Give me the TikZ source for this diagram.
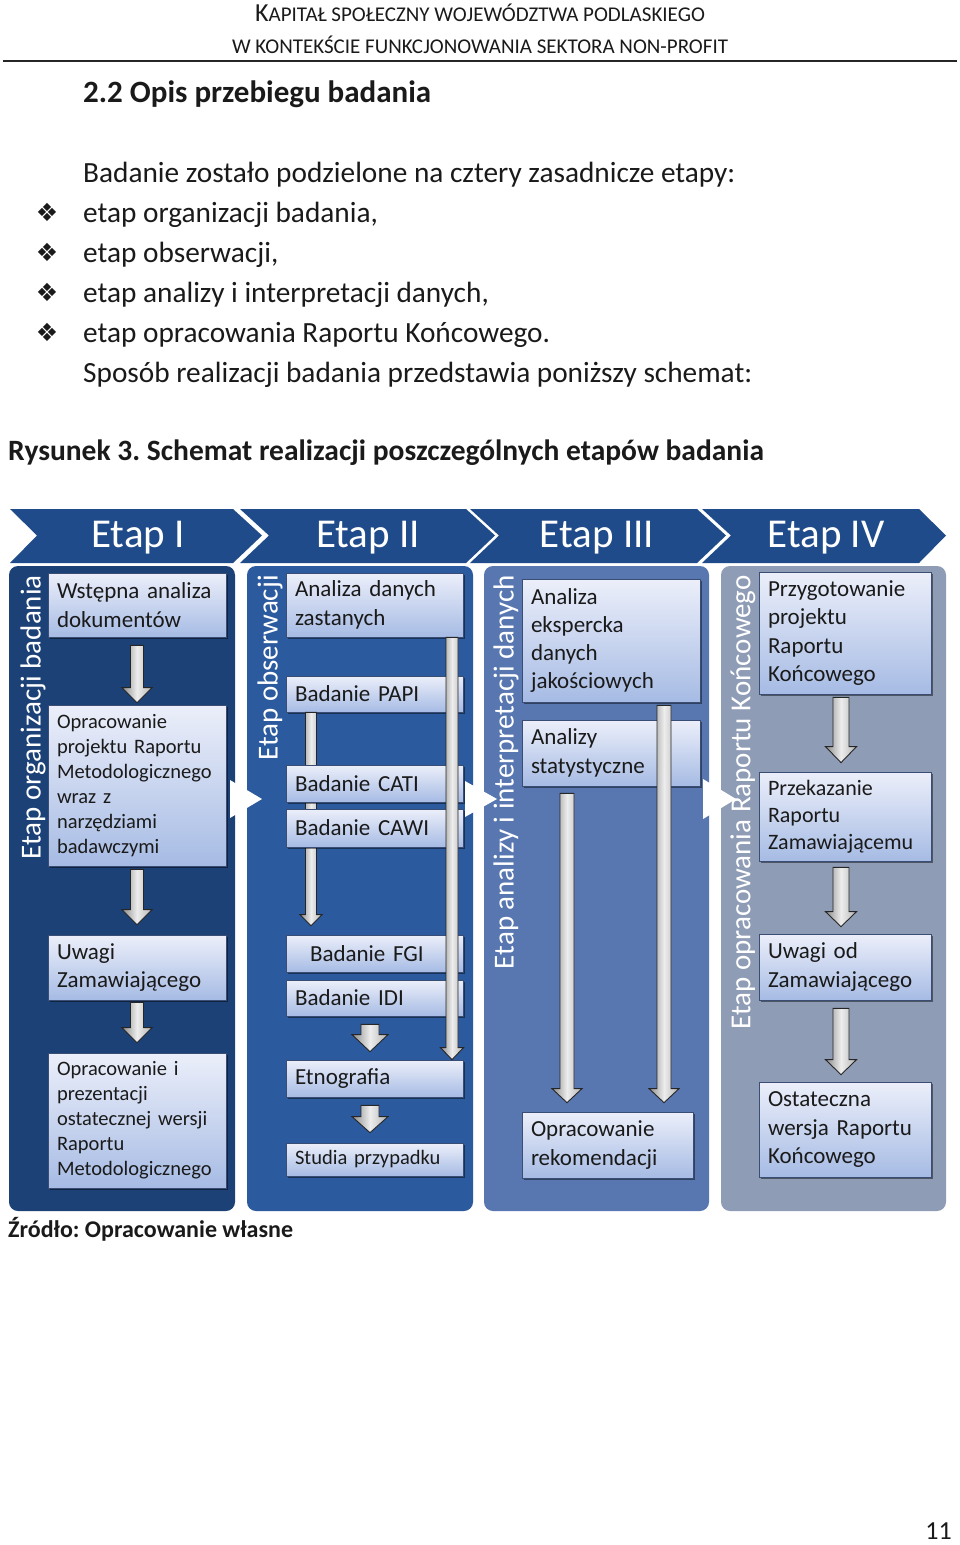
\documentclass[tikz,border=0pt]{standalone}
\usepackage{fontspec}
\setmainfont{Carlito}
\newfontfamily\dejavu{DejaVu Sans}
\usetikzlibrary{shadows,calc}
\frenchspacing

\definecolor{chev}{HTML}{1F4B8A}
\definecolor{pI}{HTML}{1C4177}
\definecolor{pII}{HTML}{2C5A9E}
\definecolor{pIII}{HTML}{5877B1}
\definecolor{pIV}{HTML}{8F9CB6}
\definecolor{boxtop}{HTML}{ECEFFA}
\definecolor{boxbot}{HTML}{A6BBE4}
\definecolor{boxline}{HTML}{3A4D75}
\definecolor{arrL}{HTML}{8A8A8A}
\definecolor{arrM}{HTML}{EDEDED}
\definecolor{arrR}{HTML}{B2B2B2}
\definecolor{txt}{HTML}{1A1A1A}

\tikzset{
  stagebox/.style={draw=boxline, line width=0.7pt, top color=boxtop, bottom color=boxbot,
    text=txt, align=left, inner xsep=9pt, inner ysep=0pt,
    drop shadow={shadow xshift=2pt, shadow yshift=-2pt, opacity=0.45, fill=black}},
  bigtxt/.style={font=\fontsize{23}{28.3}\selectfont},
  smalltxt/.style={font=\fontsize{20.5}{25}\selectfont},
  midtxt/.style={font=\fontsize{22}{27}\selectfont},
  blockarrow/.style={draw=black!85, line width=0.9pt, left color=arrL, right color=arrR, middle color=arrM},
  chevlab/.style={text=white, font=\fontsize{41}{41}\selectfont, inner sep=0pt},
  vlab/.style={text=white, font=\fontsize{29}{29}\selectfont, rotate=90, anchor=east, inner sep=0pt},
  bodytxt/.style={anchor=west, inner sep=0pt, text=txt, font=\fontsize{29.3}{29.3}\selectfont},
  bullet/.style={inner sep=0pt, text=txt, font=\dejavu\fontsize{25}{25}\selectfont},
  hdrtxt/.style={inner sep=0pt, text=txt, font=\fontsize{21}{21}\selectfont},
  whitetri/.style={fill=white},
}

\newcommand\stg[7]{%
  \pgfmathsetmacro\bw{#5-#3}\pgfmathsetmacro\bh{#6-#4}\pgfmathsetmacro\tw{#5-#3-18}%
  \node[stagebox,#2,minimum width=\bw pt,minimum height=\bh pt,text width=\tw pt] (#1) at ({(#3+#5)/2},{(#4+#6)/2}) {#7};}

% #1 cx, #2 from, #3 to, #4 gap top, #5 gap bottom, #6 shaft half, #7 head half, #8 head len
\newcommand\barr[8]{%
  \path[blockarrow] let \p1=(#2.south), \p2=(#3.north) in
  (#1pt-#6pt,\y1-#4pt) -- (#1pt-#6pt,\y2+#5pt+#8pt) -- (#1pt-#7pt,\y2+#5pt+#8pt) --
  (#1pt,\y2+#5pt) -- (#1pt+#7pt,\y2+#5pt+#8pt) -- (#1pt+#6pt,\y2+#5pt+#8pt) --
  (#1pt+#6pt,\y1-#4pt) -- cycle;}

\begin{document}
\begin{tikzpicture}[x=1pt,y=-1pt]
\useasboundingbox (0,0) rectangle (960,1545);
\fill[white] (0,0) rectangle (960,1545);

% header
\node[hdrtxt] (hd1) at (480,13) {{\fontsize{26}{26}\selectfont K}APITAŁ SPOŁECZNY WOJEWÓDZTWA PODLASKIEGO};
\node[hdrtxt] (hd2) at (480,45) {W KONTEKŚCIE FUNKCJONOWANIA SEKTORA NON-PROFIT};
\draw[line width=1.3pt, black!85] (3,61) -- (957,61);

\node[anchor=west, inner sep=0pt, text=txt, font=\bfseries\fontsize{31}{31}\selectfont] (head) at (83,94) {2.2 Opis przebiegu badania};

\node[bodytxt] (t0) at (83,175) {Badanie zostało podzielone na cztery zasadnicze etapy:};
\node[bodytxt] (t1) at (83,215) {etap organizacji badania,};
\node[bodytxt] (t2) at (83,255) {etap obserwacji,};
\node[bodytxt] (t3) at (83,295) {etap analizy i interpretacji danych,};
\node[bodytxt] (t4) at (83,335) {etap opracowania Raportu Końcowego.};
\node[bodytxt] (t5) at (83,375) {Sposób realizacji badania przedstawia poniższy schemat:};
\node[bullet] (bu1) at (47,212) {❖};
\node[bullet] (bu2) at (47,252) {❖};
\node[bullet] (bu3) at (47,292) {❖};
\node[bullet] (bu4) at (47,332) {❖};

\node[anchor=west, inner sep=0pt, text=txt, font=\bfseries\fontsize{29.5}{29.5}\selectfont] (cap) at (8,453) {Rysunek 3. Schemat realizacji poszczególnych etapów badania};

% chevrons
\fill[chev] (10,509) -- (233,509) -- (262,535.5) -- (233,563) -- (10,563) -- (37,535.5) -- cycle;
\fill[chev] (240,509) -- (466,509) -- (495,535.5) -- (466,563) -- (240,563) -- (269,535.5) -- cycle;
\fill[chev] (470,509) -- (697,509) -- (726,535.5) -- (697,563) -- (470,563) -- (499,535.5) -- cycle;
\fill[chev] (702,509) -- (919,509) -- (946,535.5) -- (919,563) -- (702,563) -- (731,535.5) -- cycle;
\node[chevlab] (e1) at (138,538) {Etap I};
\node[chevlab] (e2) at (368,538) {Etap II};
\node[chevlab] (e3) at (597,538) {Etap III};
\node[chevlab] (e4) at (826,538) {Etap IV};

% panels
\fill[pI, rounded corners=9pt] (9,566) rectangle (235,1211);
\fill[pII, rounded corners=9pt] (247,566) rectangle (473,1211);
\fill[pIII, rounded corners=9pt] (484,566) rectangle (709,1211);
\fill[pIV, rounded corners=9pt] (721,566) rectangle (946,1211);

\node[vlab] (v1) at (33,575) {Etap organizacji badania};
\node[vlab] (v2) at (270,575) {Etap obserwacji};
\node[vlab] (v3) at (506,575) {Etap analizy i interpretacji danych};
\node[vlab] (v4) at (743,575) {Etap opracowania Raportu Końcowego};

% panel I
\stg{b11}{bigtxt}{48}{573}{226}{637}{Wstępna analiza\\dokumentów}
\stg{b12}{smalltxt}{48}{705}{226}{866}{Opracowanie\\projektu Raportu\\Metodologicznego\\wraz z\\narzędziami\\badawczymi}
\stg{b13}{bigtxt}{48}{935}{226}{1000}{Uwagi\\Zamawiającego}
\stg{b14}{smalltxt}{48}{1053}{226}{1188}{Opracowanie i\\prezentacji\\ostatecznej wersji\\Raportu\\Metodologicznego}
\barr{137}{b11}{b12}{8}{2}{6.5}{15}{15}
\barr{137}{b12}{b13}{3}{10}{6.5}{15}{15}
\barr{137}{b13}{b14}{2}{10}{6.5}{15}{15}

% panel II
\stg{b21}{bigtxt}{286}{573}{463}{637}{Analiza danych\\zastanych}
\stg{b22}{bigtxt}{286}{676}{463}{712}{Badanie PAPI}
\stg{b25}{bigtxt}{286}{935}{463}{972}{\hspace*{15pt}Badanie FGI}
\stg{b26}{bigtxt}{286}{980}{463}{1016}{Badanie IDI}
\stg{b27}{bigtxt}{286}{1060}{463}{1097}{Etnografia}
\stg{b28}{smalltxt}{286}{1143}{463}{1176}{Studia przypadku}
\barr{311}{b22}{b25}{0}{9}{5.5}{11}{11}
\stg{b23}{bigtxt}{286}{765}{463}{802}{Badanie CATI}
\stg{b24}{bigtxt}{286}{809}{463}{847}{Badanie CAWI}
\barr{452}{b21}{b27}{0}{0}{6}{11.5}{12}
\barr{370}{b26}{b27}{8}{8}{9}{18}{17}
\barr{370}{b27}{b28}{8}{10}{9}{18}{16}

% panel III
\stg{b31}{bigtxt}{522}{579}{700}{702}{Analiza\\ekspercka\\danych\\jakościowych}
\stg{b32}{bigtxt}{522}{720}{700}{786}{Analizy\\statystyczne}
\stg{b33}{bigtxt}{522}{1112}{693}{1178}{Opracowanie\\rekomendacji}
\barr{664}{b31}{b33}{3}{9}{7}{15}{14}
\barr{567}{b32}{b33}{7}{9}{7}{15}{14}

% panel IV
\stg{b41}{bigtxt}{759}{572}{931}{694}{Przygotowanie\\projektu\\Raportu\\Końcowego}
\stg{b42}{midtxt}{759}{772}{931}{861}{Przekazanie\\Raportu\\Zamawiającemu}
\stg{b43}{bigtxt}{759}{934}{931}{1000}{Uwagi od\\Zamawiającego}
\stg{b44}{bigtxt}{759}{1082}{931}{1177}{Ostateczna\\wersja Raportu\\Końcowego}
\barr{841}{b41}{b42}{3}{9}{8}{15.5}{16}
\barr{841}{b42}{b43}{6}{7}{8}{15.5}{15}
\barr{841}{b43}{b44}{8}{7}{8}{15.5}{15}

% white triangles between stages
\fill[whitetri] (230,780) -- (262,799) -- (230,818) -- cycle;
\fill[whitetri] (465,781) -- (497,799) -- (465,817) -- cycle;
\fill[whitetri] (703,779) -- (736,799) -- (703,819) -- cycle;

\node[anchor=west, inner sep=0pt, text=txt, font=\bfseries\fontsize{24}{24}\selectfont] (src) at (8,1229) {Źródło: Opracowanie własne};
\node[anchor=east, inner sep=0pt, text=txt, font=\fontsize{26}{26}\selectfont] (pg) at (952,1531) {11};
\end{tikzpicture}
\end{document}
